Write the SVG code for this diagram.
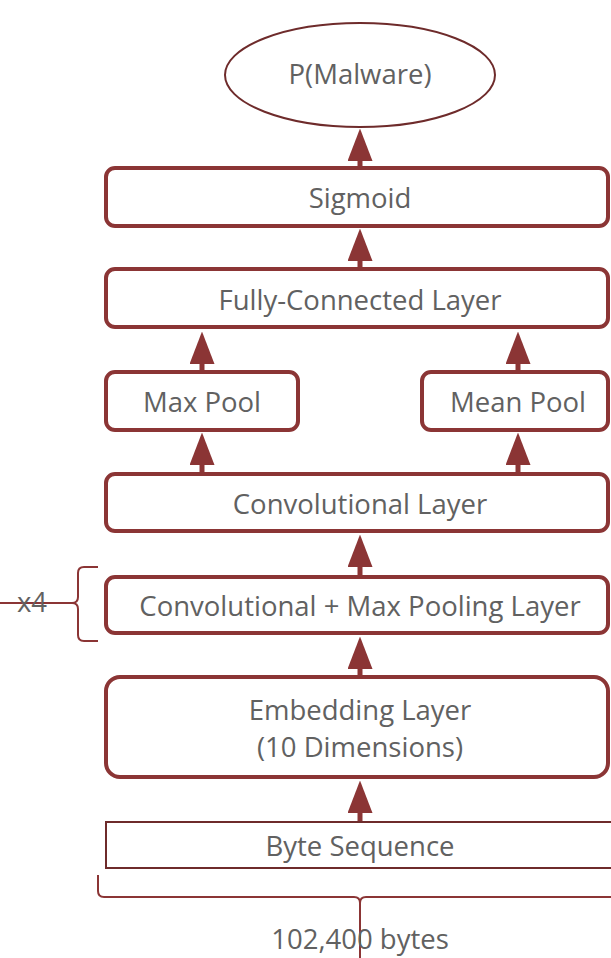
<svg xmlns="http://www.w3.org/2000/svg" width="611" height="958" viewBox="0 0 611 958">
<defs>
<style>
.box{fill:#fff;stroke:#8B3535;stroke-width:4}
.thin{fill:#fff;stroke:#6E2B2B;stroke-width:2}
.t{font-family:"Open Sans","Noto Sans",sans-serif;font-size:27.5px;fill:#616161;text-anchor:middle}
.c{stroke:#8B3535;stroke-width:5;fill:none}
.br{stroke:#8B3535;stroke-width:2;fill:none}
</style>
<marker id="ah" viewBox="0 0 13 10" refX="0" refY="5" markerWidth="6.5" markerHeight="5" markerUnits="strokeWidth" orient="auto">
<path d="M0,0 L13,5 L0,10 Z" fill="#8B3535"/>
</marker>
</defs>
<g id="connectors">
<path class="c" d="M360,168 V161" marker-end="url(#ah)"/>
<path class="c" d="M360,268 V261" marker-end="url(#ah)"/>
<path class="c" d="M202,371 V364" marker-end="url(#ah)"/>
<path class="c" d="M518,371 V364" marker-end="url(#ah)"/>
<path class="c" d="M202,473 V465" marker-end="url(#ah)"/>
<path class="c" d="M518,473 V465" marker-end="url(#ah)"/>
<path class="c" d="M360,577 V567" marker-end="url(#ah)"/>
<path class="c" d="M360,676 V669" marker-end="url(#ah)"/>
<path class="c" d="M360,822 V813" marker-end="url(#ah)"/>
</g>
<g id="ellipse-out">
<ellipse class="thin" cx="360" cy="75" rx="135" ry="52"/>
<text class="t" x="360" y="84">P(Malware)</text>
</g>
<g id="sigmoid">
<rect class="box" x="106" y="168" width="502" height="58" rx="9"/>
<text class="t" x="360" y="208">Sigmoid</text>
</g>
<g id="fc">
<rect class="box" x="106" y="269" width="502" height="58" rx="9"/>
<text class="t" x="360" y="310">Fully-Connected Layer</text>
</g>
<g id="maxpool">
<rect class="box" x="106" y="372" width="192" height="58" rx="9"/>
<text class="t" x="202" y="412">Max Pool</text>
</g>
<g id="meanpool">
<rect class="box" x="422" y="372" width="186" height="58" rx="9"/>
<text class="t" x="518" y="412">Mean Pool</text>
</g>
<g id="conv">
<rect class="box" x="106" y="474" width="502" height="57" rx="9"/>
<text class="t" x="360" y="514">Convolutional Layer</text>
</g>
<g id="convpool">
<rect class="box" x="106" y="577" width="502" height="56" rx="9"/>
<text class="t" x="360" y="616">Convolutional + Max Pooling Layer</text>
</g>
<g id="embedding">
<rect class="box" x="106" y="677" width="502" height="100" rx="14"/>
<text class="t" x="360" y="720">Embedding Layer</text>
<text class="t" x="360" y="757">(10 Dimensions)</text>
</g>
<g id="bytes">
<rect class="thin" x="106" y="822" width="508" height="46"/>
<text class="t" x="360" y="856">Byte Sequence</text>
</g>
<g id="brace-left">
<path class="br" d="M98,567 H84 Q78,567 78,573 V597 Q78,603 72,603 Q78,603 78,609 V635 Q78,641 84,641 H98"/>
<path class="br" d="M0,603 H72"/>
<text class="t" x="32" y="612">x4</text>
</g>
<g id="brace-bottom">
<path class="br" d="M98,875 V891 Q98,897 104,897 H354 Q360,897 360,903 Q360,897 366,897 H611"/>
<path class="br" d="M360,903 V958"/>
<text class="t" x="360" y="949">102,400 bytes</text>
</g>
</svg>
